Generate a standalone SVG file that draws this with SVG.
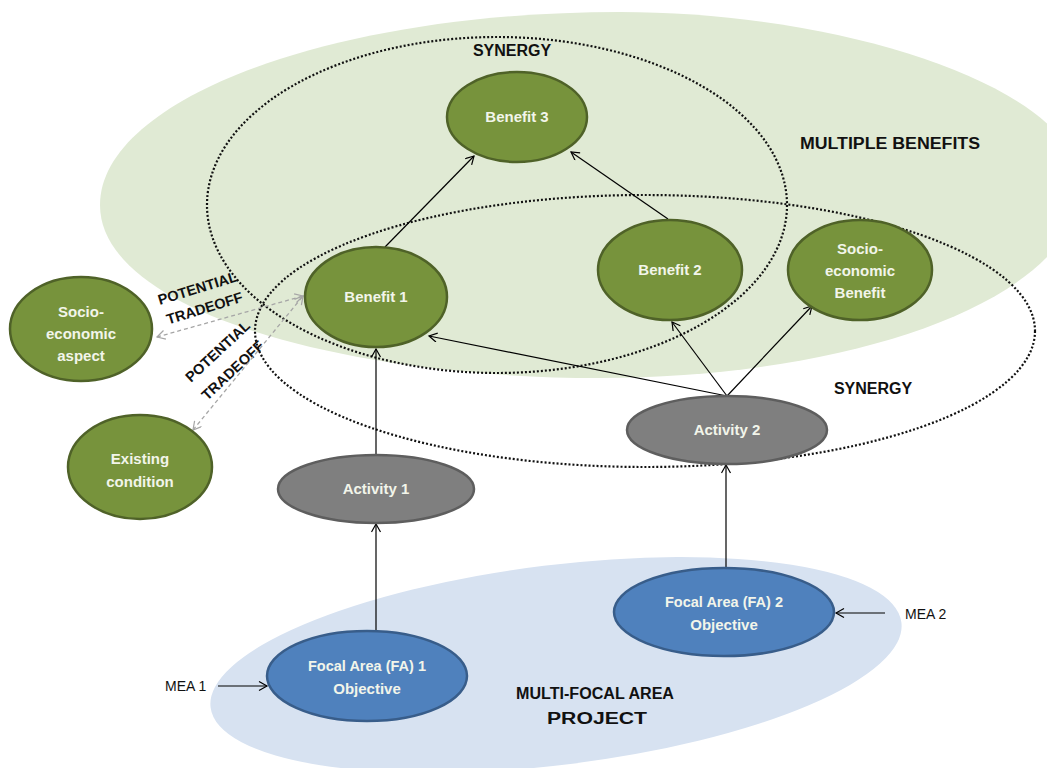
<svg xmlns="http://www.w3.org/2000/svg" width="1047" height="768" viewBox="0 0 1047 768">
<defs>
<marker id="arr" markerWidth="12" markerHeight="12" refX="9" refY="5" orient="auto" markerUnits="userSpaceOnUse">
<path d="M1,0.5 L9,5 L1,9.5" fill="none" stroke="#000" stroke-width="1.2"/>
</marker>
<marker id="arrg" markerWidth="12" markerHeight="12" refX="9" refY="5" orient="auto-start-reverse" markerUnits="userSpaceOnUse">
<path d="M1,0.5 L9,5 L1,9.5" fill="none" stroke="#a6a6a6" stroke-width="1.2"/>
</marker>
<style>
.green{fill:#77933c;stroke:#4f6228;stroke-width:2.5}
.gray{fill:#7f7f7f;stroke:#5e5e5e;stroke-width:2.5}
.blue{fill:#4f81bd;stroke:#385d8a;stroke-width:2.5}
.nt{font-family:"Liberation Sans",Arial,sans-serif;font-weight:bold;font-size:15px;fill:#f2f5ea;text-anchor:middle}
.lab{font-family:"Liberation Sans",Arial,sans-serif;font-weight:bold;font-size:16px;fill:#111;text-anchor:middle}
.small{font-family:"Liberation Sans",Arial,sans-serif;font-weight:bold;font-size:14.5px;fill:#111;text-anchor:middle}
.mea{font-family:"Liberation Sans",Arial,sans-serif;font-size:14px;fill:#111}
.dot{fill:none;stroke:#111;stroke-width:2.2;stroke-dasharray:2 2}
.con{fill:none;stroke:#000;stroke-width:1.2;marker-end:url(#arr)}
.dash{fill:none;stroke:#a6a6a6;stroke-width:1.3;stroke-dasharray:4 3;marker-start:url(#arrg);marker-end:url(#arrg)}
</style>
</defs>
<rect width="1047" height="768" fill="#ffffff"/>
<g id="regions">
<path d="M100,205 C100,100 330,12 620,12 C850,12 1080,90 1080,185 C1080,300 850,378 600,378 C340,378 100,310 100,205 Z" fill="#e0ead4"/>
<ellipse cx="556" cy="665" rx="348" ry="100" transform="rotate(-7 556 665)" fill="#d7e2f1"/>
<ellipse class="dot" cx="497" cy="205" rx="290" ry="168"/>
<ellipse class="dot" cx="645" cy="331" rx="390" ry="136"/>
</g>
<g id="labels">
<text class="lab" x="512" y="56">SYNERGY</text>
<text class="lab" x="890" y="149" textLength="180" lengthAdjust="spacingAndGlyphs">MULTIPLE BENEFITS</text>
<text class="lab" x="873" y="394">SYNERGY</text>
<text class="lab" x="595" y="699" font-size="19" textLength="158" lengthAdjust="spacingAndGlyphs">MULTI-FOCAL AREA</text>
<text class="lab" x="597" y="724" font-size="19" textLength="100" lengthAdjust="spacingAndGlyphs">PROJECT</text>
<text class="small" transform="translate(199,293) rotate(-17)">POTENTIAL</text>
<text class="small" transform="translate(206,313) rotate(-17)">TRADEOFF</text>
<text class="small" transform="translate(221,355) rotate(-43)">POTENTIAL</text>
<text class="small" transform="translate(236,374) rotate(-43)">TRADEOFF</text>
<text class="mea" x="165" y="691">MEA 1</text>
<text class="mea" x="905" y="619">MEA 2</text>
</g>
<g id="connectors">
<line class="con" x1="376" y1="455" x2="376" y2="349"/>
<line class="con" x1="376" y1="631" x2="376" y2="524"/>
<line class="con" x1="385" y1="247" x2="474" y2="156"/>
<line class="con" x1="668" y1="219" x2="571" y2="152"/>
<line class="con" x1="727" y1="396" x2="429" y2="336"/>
<line class="con" x1="727" y1="396" x2="672" y2="322"/>
<line class="con" x1="727" y1="396" x2="812" y2="306"/>
<line class="con" x1="726" y1="568" x2="726" y2="465"/>
<line class="con" x1="218" y1="686" x2="267" y2="686"/>
<line class="con" x1="885" y1="613" x2="836" y2="613"/>
<line class="dash" x1="157" y1="337" x2="303" y2="296"/>
<line class="dash" x1="193" y1="430" x2="303" y2="296"/>
</g>
<g id="benefit3"><ellipse class="green" cx="517" cy="117" rx="70" ry="45"/><text class="nt" x="517" y="122">Benefit 3</text></g>
<g id="benefit1"><ellipse class="green" cx="376" cy="297" rx="71" ry="50"/><text class="nt" x="376" y="302">Benefit 1</text></g>
<g id="benefit2"><ellipse class="green" cx="670" cy="270" rx="72" ry="50"/><text class="nt" x="670" y="275">Benefit 2</text></g>
<g id="socioBenefit"><ellipse class="green" cx="860" cy="270" rx="72" ry="50"/><text class="nt" x="860" y="254">Socio-</text><text class="nt" x="860" y="276">economic</text><text class="nt" x="860" y="298">Benefit</text></g>
<g id="socioAspect"><ellipse class="green" cx="81" cy="329" rx="71" ry="52"/><text class="nt" x="81" y="317">Socio-</text><text class="nt" x="81" y="339">economic</text><text class="nt" x="81" y="361">aspect</text></g>
<g id="existing"><ellipse class="green" cx="140" cy="467" rx="72" ry="52"/><text class="nt" x="140" y="464">Existing</text><text class="nt" x="140" y="487">condition</text></g>
<g id="activity1"><ellipse class="gray" cx="376" cy="489" rx="98" ry="34"/><text class="nt" x="376" y="494">Activity 1</text></g>
<g id="activity2"><ellipse class="gray" cx="727" cy="430" rx="100" ry="34"/><text class="nt" x="727" y="435">Activity 2</text></g>
<g id="fa1"><ellipse class="blue" cx="367" cy="676" rx="100" ry="45"/><text class="nt" x="367" y="671" textLength="118" lengthAdjust="spacingAndGlyphs">Focal Area (FA) 1</text><text class="nt" x="367" y="694">Objective</text></g>
<g id="fa2"><ellipse class="blue" cx="724" cy="612" rx="110" ry="44"/><text class="nt" x="724" y="607" textLength="118" lengthAdjust="spacingAndGlyphs">Focal Area (FA) 2</text><text class="nt" x="724" y="630">Objective</text></g>
</svg>
